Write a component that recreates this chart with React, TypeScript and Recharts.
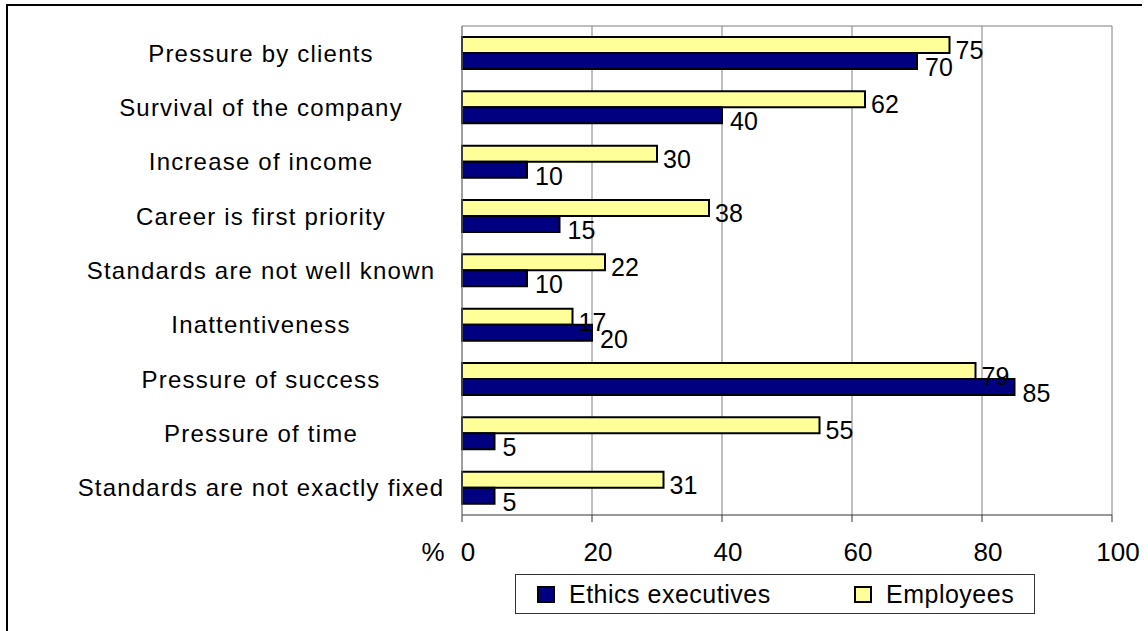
import React from 'react';
import { BarChart, Bar, XAxis, YAxis, CartesianGrid, LabelList } from 'recharts';

// values (%)
const categories = [
  'Pressure by clients',
  'Survival of the company',
  'Increase of income',
  'Career is first priority',
  'Standards are not well known',
  'Inattentiveness',
  'Pressure of success',
  'Pressure of time',
  'Standards are not exactly fixed',
];
const ethicsExecutives = [70, 40, 10, 15, 10, 20, 85, 5, 5];
const employees = [75, 62, 30, 38, 22, 17, 79, 55, 31];
const xTicks = [0, 20, 40, 60, 80, 100];

const data = categories.map((name, i) => ({
  name,
  executives: ethicsExecutives[i],
  employees: employees[i],
}));

const FONT = '"Liberation Sans", Arial, sans-serif';
const NAVY = '#000080';
const YELLOW = '#FFFF99';

const CategoryTick = (props: any) => {
  const { y, payload } = props;
  return (
    <text
      x={261}
      y={y}
      textAnchor="middle"
      dominantBaseline="central"
      fontFamily={FONT}
      fontSize={24}
      letterSpacing={1.2}
      fill="#000"
    >
      {payload.value}
    </text>
  );
};

const ValueTick = (props: any) => {
  const { x, y, payload } = props;
  return (
    <g>
      {payload.value === 0 && (
        <text x={x - 29} y={y + 28} textAnchor="middle" dominantBaseline="central" fontFamily={FONT} fontSize={26} fill="#000">
          %
        </text>
      )}
      <text x={x + 6} y={y + 28} textAnchor="middle" dominantBaseline="central" fontFamily={FONT} fontSize={26} fill="#000">
        {payload.value}
      </text>
    </g>
  );
};

const makeValueLabel = (dx: number, dy: number) => (props: any) => {
  const { x, y, width, height, value } = props;
  return (
    <text
      x={x + width + dx}
      y={y + height / 2 + dy}
      dominantBaseline="central"
      fontFamily={FONT}
      fontSize={25}
      fill="#000"
    >
      {value}
    </text>
  );
};

const LegendSwatch = ({ color }: { color: string }) => (
  <span
    style={{
      display: 'inline-block',
      width: 14,
      height: 13,
      background: color,
      border: '2px solid #000',
      marginRight: 14,
    }}
  />
);

const App: React.FC = () => {
  return (
    <div style={{ position: 'absolute', left: 0, top: 0, width: 1148, height: 631, background: '#fff', overflow: 'hidden' }}>
      {/* outer frame, only top and left edges are visible */}
      <div
        style={{
          position: 'absolute',
          left: 6,
          top: 4,
          width: 1134,
          height: 700,
          borderTop: '2px solid #000',
          borderLeft: '2px solid #000',
        }}
      />
      <div style={{ position: 'absolute', left: 0, top: 0 }}>
        <BarChart
          width={1148}
          height={631}
          data={data}
          layout="vertical"
          margin={{ top: 26, right: 36, left: 0, bottom: 76 }}
          barSize={16}
          barGap={0}
        >
          <CartesianGrid
            stroke="#808080"
            strokeWidth={1}
            horizontalCoordinatesGenerator={({ offset }: any) => [offset.top]}
          />
          <XAxis
            type="number"
            domain={[0, 100]}
            ticks={xTicks}
            height={40}
            tickSize={7}
            tick={<ValueTick />}
            axisLine={{ stroke: '#333' }}
            tickLine={{ stroke: '#333' }}
          />
          <YAxis
            type="category"
            dataKey="name"
            width={462}
            tick={<CategoryTick />}
            tickLine={false}
            axisLine={{ stroke: '#808080' }}
            interval={0}
          />
          <Bar dataKey="employees" fill={YELLOW} stroke="#000" strokeWidth={2} isAnimationActive={false}>
            <LabelList dataKey="employees" content={makeValueLabel(6, 5)} />
          </Bar>
          <Bar dataKey="executives" fill={NAVY} stroke="#000" strokeWidth={2} isAnimationActive={false}>
            <LabelList dataKey="executives" content={makeValueLabel(8, 6)} />
          </Bar>
        </BarChart>
      </div>
      {/* legend */}
      <div
        style={{
          position: 'absolute',
          left: 515,
          top: 574,
          width: 520,
          height: 40,
          border: '1px solid #333',
          fontFamily: FONT,
          fontSize: 25,
          letterSpacing: 0.5,
          display: 'flex',
          alignItems: 'center',
          boxSizing: 'border-box',
        }}
      >
        <span style={{ position: 'absolute', left: 21, display: 'flex', alignItems: 'center' }}>
          <LegendSwatch color={NAVY} />
          Ethics executives
        </span>
        <span style={{ position: 'absolute', left: 338, display: 'flex', alignItems: 'center' }}>
          <LegendSwatch color={YELLOW} />
          Employees
        </span>
      </div>
    </div>
  );
};

export default App;
